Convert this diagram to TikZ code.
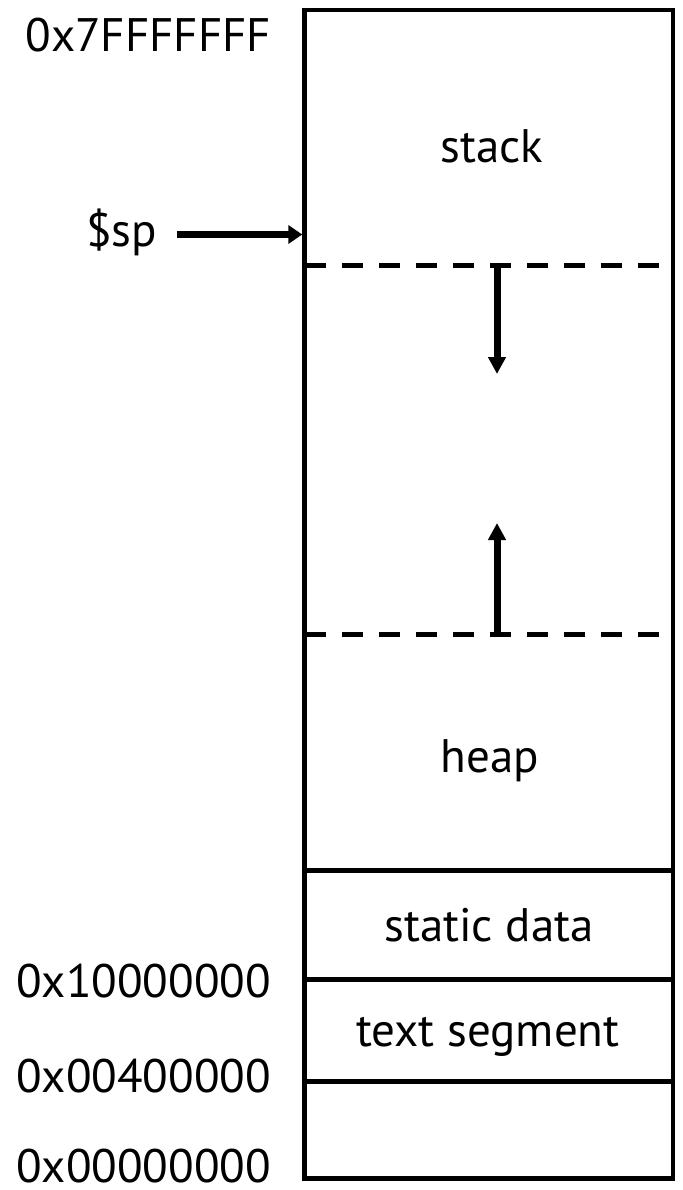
\documentclass[tikz,border=0pt]{standalone}
\usepackage{fontspec}
\setmainfont{PT Sans}
\usetikzlibrary{arrows.meta}
\begin{document}
\begin{tikzpicture}[x=1pt,y=-1pt,
  lbl/.style={font=\fontsize{47}{56}\selectfont, inner sep=0pt, outer sep=0pt},
  wall/.style={line width=4.5pt},
  limitline/.style={line width=4.5pt, dash pattern=on 21pt off 16pt, dash phase=2pt},
  growth/.style={line width=7pt, -{Triangle[length=17pt,width=17pt]}},
  sparrow/.style={line width=7.5pt, -{Triangle[length=14pt,width=18pt]}}]
\useasboundingbox (0,0) rectangle (682,1190);

% memory box
\node[draw, wall, minimum width=368.5pt, minimum height=1168.5pt, inner sep=0pt, outer sep=0pt, anchor=north west] (mem) at (304.5,10) {};

% solid separators
\coordinate (h1L) at (304.5,870.5);  \coordinate (h1R) at (673,870.5);
\coordinate (h2L) at (304.5,979.5);  \coordinate (h2R) at (673,979.5);
\coordinate (h3L) at (304.5,1081.5); \coordinate (h3R) at (673,1081.5);
\draw[wall] (h1L) -- (h1R);
\draw[wall] (h2L) -- (h2R);
\draw[wall] (h3L) -- (h3R);

% dashed limits
\coordinate (d1L) at (306.75,265.5); \coordinate (d1R) at (670.75,265.5);
\coordinate (d2L) at (306.75,634.5); \coordinate (d2R) at (670.75,634.5);
\draw[limitline] (d1L) -- (d1R);
\draw[limitline] (d2L) -- (d2R);

% growth arrows
\coordinate (downS) at (497,265.5); \coordinate (downE) at (497,374);
\coordinate (upS) at (497,634.5);   \coordinate (upE) at (497,523);
\draw[growth] (downS) -- (downE);
\draw[growth] (upS) -- (upE);

% region labels
\node[lbl, anchor=base] (stack) at (492,163) {stack};
\node[lbl, anchor=base] (heap) at (490,772) {heap};
\node[lbl, anchor=base] (static) at (489,941) {static data};
\node[lbl, anchor=base] (textseg) at (488,1046) {text segment};

% addresses
\node[lbl, anchor=base east] (a1) at (271,52) {0x7FFFFFFF};
\node[lbl, anchor=base east] (a2) at (271,997) {0x10000000};
\node[lbl, anchor=base east] (a3) at (271,1092) {0x00400000};
\node[lbl, anchor=base east] (a4) at (271,1182) {0x00000000};

% stack pointer
\node[lbl, anchor=base east] (sp) at (157,247) {\$sp};
\coordinate (spS) at (177,234.5);
\coordinate (spE) at (302.3,234.5);
\draw[sparrow] (spS) -- (spE);
\end{tikzpicture}
\end{document}
